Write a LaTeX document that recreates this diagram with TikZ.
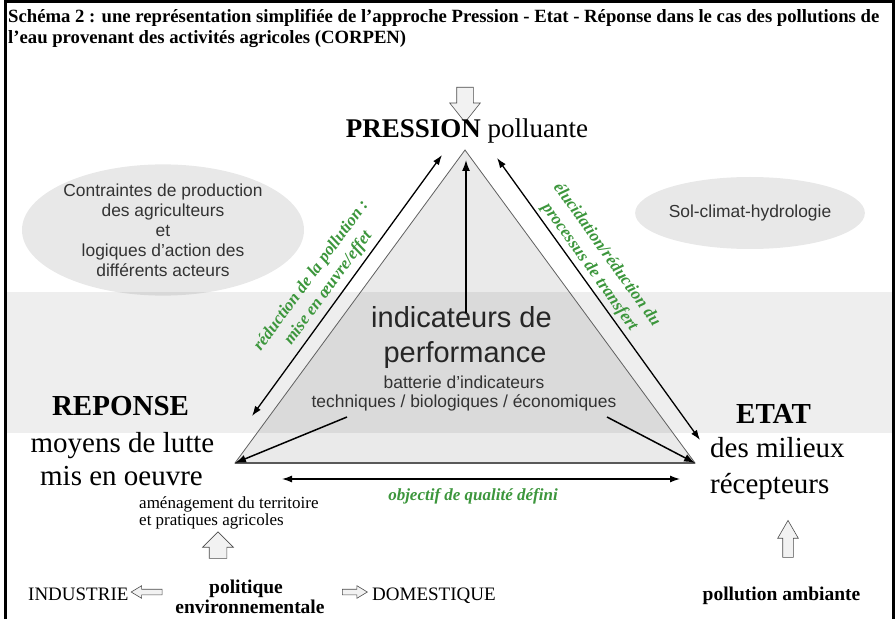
\documentclass[tikz,border=0pt]{standalone}
\usepackage{fontspec}
\setmainfont{Liberation Serif}
\setsansfont{Liberation Sans}
\usetikzlibrary{arrows.meta,positioning,calc,shapes.geometric,shapes.arrows}
\definecolor{leafgreen}{HTML}{3C963C}
\definecolor{softgray}{HTML}{E8E8E8}
\definecolor{trigray}{HTML}{EAEAEA}
\definecolor{inkgray}{HTML}{333333}

\begin{document}
\begin{tikzpicture}[
  x=1pt, y=1pt, inner sep=0pt,
  blob/.style={ellipse, fill=softgray, align=center, text=inkgray, font=\fontsize{17.4}{20}\sffamily},
  hollow/.style={single arrow, draw=gray!60!black, fill=gray!10, line width=0.6pt},
  link/.style={line width=1.5pt, -{Latex[length=11pt,width=8pt]}},
  twoway/.style={line width=1.3pt, {Latex[length=10pt,width=7pt]}-{Latex[length=10pt,width=7pt]}},
  note/.style={font=\fontsize{17}{21}\selectfont\bfseries\itshape, text=leafgreen, align=center},
  heading/.style={font=\fontsize{29}{32}\selectfont\bfseries},
  big/.style={font=\fontsize{29}{34}\selectfont},
  bigsans/.style={font=\fontsize{29}{34}\sffamily, text=black!85},
  smallsans/.style={font=\fontsize{17.4}{20}\sffamily, text=inkgray},
  small/.style={font=\fontsize{17}{19}\selectfont},
  foot/.style={font=\fontsize{19}{22}\selectfont},
  footbold/.style={font=\fontsize{19.5}{22}\selectfont\bfseries},
  titlefont/.style={font=\fontsize{18.7}{21}\selectfont\bfseries}
]
\useasboundingbox (0,0) rectangle (896,619);

% triangle corners and arrow ends
\coordinate (apex) at (465,469);
\coordinate (vleft) at (235,156);
\coordinate (vright) at (695,156);
\coordinate (pl) at (442,464);
\coordinate (rl) at (252,203);
\coordinate (pr) at (497,461);
\coordinate (er) at (700,179);
\coordinate (pc) at (466,459);
\coordinate (tl) at (347,202);
\coordinate (tr) at (607,202);
\coordinate (rq) at (282,140);
\coordinate (eq) at (680,140);

\fill[trigray] (apex) -- (vleft) -- (vright) -- cycle;

\node[blob, minimum width=282pt, minimum height=130pt] (contraintes) at (163,389)
  {Contraintes de production\\des agriculteurs\\et\\logiques d'action des\\différents acteurs};
\node[blob, minimum width=200pt, minimum height=72pt] (sol) at (750,406) {Sol-climat-hydrologie};

% grey band
\fill[black, fill opacity=0.065] (5.5,186) rectangle (893,327);

\draw[gray!75!black, line width=0.8pt] (apex) -- (vleft) -- (vright) -- cycle;
\draw[gray!70!black, line width=1.8pt] (vleft) -- (vright);

% frame
\draw[line width=3pt] (5.5,0) -- (5.5,617.5) -- (893,617.5) -- (893,0);

\node[anchor=base west, titlefont] (title1) at (8,596)
  {Schéma 2 : une représentation simplifiée de l’approche Pression - Etat - Réponse dans le cas des pollutions de};
\node[anchor=base west, titlefont] (title2) at (8,575)
  {l’eau provenant des activités agricoles (CORPEN)};

\node[hollow, shape border rotate=270, minimum height=35pt, inner sep=8pt,
  single arrow head extend=7pt, single arrow tip angle=77] (inflow) at (465,519.5) {};

\node[anchor=base, font=\fontsize{27}{32}\selectfont] (pression) at (467,481) {\textbf{PRESSION} polluante};

\node[anchor=base, bigsans] (indic) at (461.5,291) {indicateurs de};
\node[anchor=base, bigsans] (perf) at (465,257) {performance};
\node[anchor=base, smallsans] (batterie) at (464,231) {batterie d'indicateurs};
\node[anchor=base, smallsans] (techniques) at (464,212) {techniques / biologiques / économiques};

\node[anchor=base, heading] (reponse) at (120.5,204) {REPONSE};
\node[anchor=base, big] (moyens) at (122.5,167) {moyens de lutte};
\node[anchor=base, big] (misoeuvre) at (121.5,134) {mis en oeuvre};
\node[anchor=base west, small] (amenag) at (139,111) {aménagement du territoire};
\node[anchor=base west, small] (pratiques) at (139,94) {et pratiques agricoles};

\node[anchor=base, heading] (etat) at (773.5,196) {ETAT};
\node[anchor=base west, big] (milieux) at (710,162) {des milieux};
\node[anchor=base west, big] (recepteurs) at (710,126) {récepteurs};

\node[note, rotate=53.7] (reduction) at (320,337) {réduction de la pollution :\\mise en œuvre/effet};
\node[note, rotate=-54.5] (elucidation) at (598,358) {élucidation/réduction du\\processus de transfert};
\node[note, anchor=base] (objectif) at (473,119) {objectif de qualité défini};

\draw[twoway] (rl) -- (pl);
\draw[twoway] (pr) -- (er);
\draw[link, shorten <=-6pt] (indic.north -| pc) -- (pc);
\draw[link] (tl) -- (vleft);
\draw[link] (tr) -- (vright);
\draw[twoway] (rq) -- (eq);

% bottom
\node[hollow, shape border rotate=90, minimum height=25pt, inner sep=8.5pt,
  single arrow head extend=6.5pt, single arrow tip angle=90] (upleft) at (218,69.5) {};
\node[hollow, shape border rotate=90, minimum height=37pt, inner sep=5pt,
  single arrow head extend=5pt, single arrow tip angle=60] (upright) at (788,75.5) {};
\node[hollow, shape border rotate=180, minimum height=31pt, inner sep=2.5pt,
  single arrow head extend=3.5pt, single arrow tip angle=62] (toind) at (149,27) {};
\node[hollow, minimum height=25pt, inner sep=2.5pt,
  single arrow head extend=3.5pt, single arrow tip angle=62] (todom) at (352.5,27) {};

\node[anchor=base west, foot] (industrie) at (28,19) {INDUSTRIE};
\node[anchor=base, footbold] (politique) at (246,26) {politique};
\node[anchor=base, footbold] (environ) at (250,6) {environnementale};
\node[anchor=base west, foot] (domestique) at (372,19) {DOMESTIQUE};
\node[anchor=base, footbold] (ambiante) at (781.5,19) {pollution ambiante};

\end{tikzpicture}
\end{document}
